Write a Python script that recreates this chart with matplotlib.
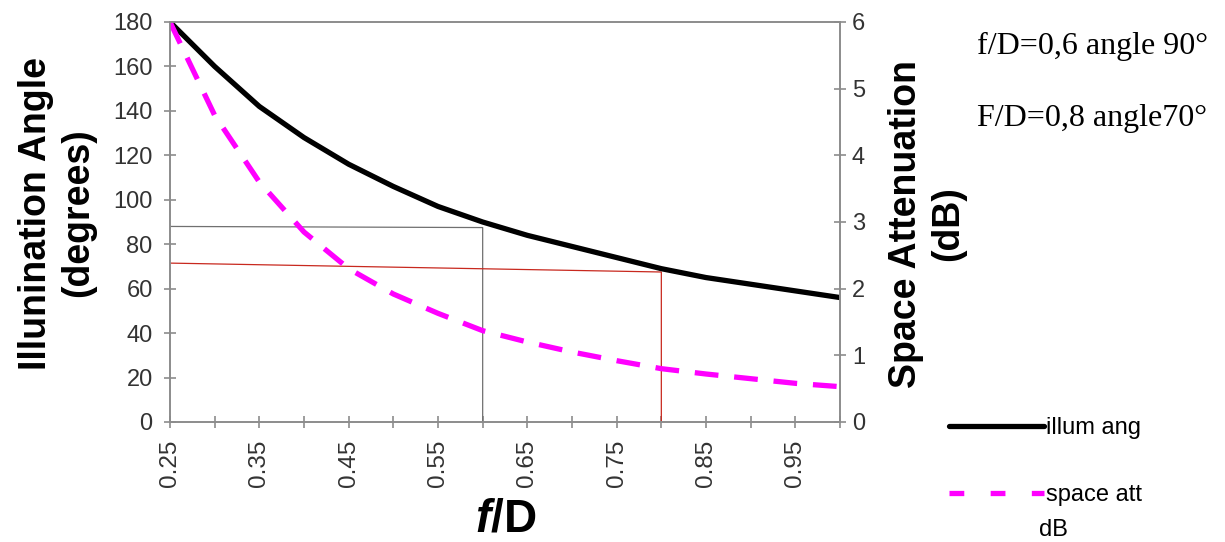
import matplotlib.pyplot as plt
from matplotlib.lines import Line2D

# f/D categories and the two series
fd = [0.25, 0.30, 0.35, 0.40, 0.45, 0.50, 0.55, 0.60,
      0.65, 0.70, 0.75, 0.80, 0.85, 0.90, 0.95, 1.00]
illum_ang = [180, 160, 142, 128, 116, 106, 97, 90, 84, 79, 74, 69, 65, 62, 59, 56]
space_att = [6.0, 4.6, 3.6, 2.85, 2.3, 1.92, 1.63, 1.37, 1.2, 1.05, 0.92, 0.8, 0.72, 0.65, 0.58, 0.53]

# hand drawn guide lines (f/D = 0.6 and 0.8)
gray_guide_x = [0.25, 0.60, 0.60]
gray_guide_y = [88, 87.5, 0]
red_guide_x = [0.25, 0.80, 0.80]
red_guide_y = [71.5, 67.5, 0]

x_major = [0.25, 0.35, 0.45, 0.55, 0.65, 0.75, 0.85, 0.95]
x_minor = [0.30, 0.40, 0.50, 0.60, 0.70, 0.80, 0.90, 1.00]
left_ticks = [0, 20, 40, 60, 80, 100, 120, 140, 160, 180]
right_ticks = [0, 1, 2, 3, 4, 5, 6]

plt.rcParams['font.family'] = ['Liberation Sans', 'DejaVu Sans']
plt.rcParams['mathtext.fontset'] = 'custom'
plt.rcParams['mathtext.bfit'] = 'Liberation Sans:bold:italic'

fig = plt.figure(figsize=(12.25, 5.42), dpi=100)
ax = fig.add_axes([170 / 1225, 1 - 422 / 542, 670 / 1225, 400 / 542])
ax2 = ax.twinx()

spine_col = '#8c8c8c'
lab_col = '#333333'

ax.plot(gray_guide_x, gray_guide_y, color='#707070', lw=0.9)
ax.plot(red_guide_x, red_guide_y, color='#c8281e', lw=0.9)
l1, = ax.plot(fd, illum_ang, color='black', lw=3.8, solid_capstyle='round')
ax2.plot(fd, space_att, color='#ff00ff', lw=3.8, dashes=(4.5, 3))

ax.set_xlim(0.25, 1.0)
ax.set_ylim(0, 180)
ax2.set_ylim(0, 6)
ax.set_xticks(x_major)
ax.set_xticklabels([f'{v:.2f}' for v in x_major], rotation=90)
ax.set_xticks(x_minor, minor=True)
ax.set_yticks(left_ticks)
ax2.set_yticks(right_ticks)

for a in (ax, ax2):
    for s in a.spines.values():
        s.set_color(spine_col)
        s.set_linewidth(1.2)
    a.tick_params(which='both', direction='inout', length=9, width=1.2,
                  color=spine_col, labelcolor=lab_col, labelsize=17)
ax.tick_params(axis='y', pad=8)
ax.tick_params(axis='x', pad=8, labelsize=17.5)
ax2.tick_params(axis='y', pad=4)

fig.text(57 / 1225, 1 - 213 / 542, 'Illunination Angle\n(degrees)', rotation=90,
         ha='center', va='center', fontsize=27, fontweight='bold')
fig.text(927 / 1225, 1 - 224 / 542, 'Space Attenuation\n(dB)', rotation=90,
         ha='center', va='center', fontsize=27, fontweight='bold')
fig.text(506 / 1225, 1 - 531 / 542, r'$\mathbfit{f}$/D', ha='center', va='baseline',
         fontsize=33, fontweight='bold')

fig.text(977 / 1225, 1 - 54 / 542, 'f/D=0,6 angle 90°', family='Liberation Serif',
         fontsize=23, va='baseline', ha='left')
fig.text(977 / 1225, 1 - 126 / 542, 'F/D=0,8 angle70°', family='Liberation Serif',
         fontsize=23, va='baseline', ha='left')

# legend sample for the dashed series uses Excel's sparser dash pattern
att_handle = Line2D([], [], color='#ff00ff', lw=3.8, dashes=(2.8, 5.0))
fig.legend([l1, att_handle], ['illum ang', 'space att'], loc='upper left',
           bbox_to_anchor=(928 / 1225, 1 - 396 / 542), frameon=False,
           fontsize=17, handlelength=4.0, handletextpad=0.1, labelspacing=1.9)
fig.text(1039 / 1225, 1 - 536 / 542, 'dB', fontsize=17, va='baseline', ha='left')

fig.savefig('out.png', dpi=100)
